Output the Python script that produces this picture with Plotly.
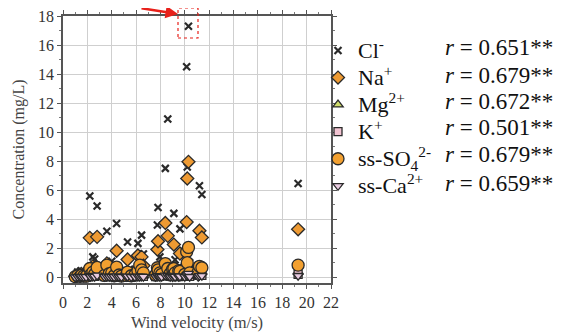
import plotly.graph_objects as go

# ---------------- data ----------------
wind = [1.0, 1.2, 1.4, 1.5, 1.7, 1.9,
        2.2, 2.25, 2.45, 2.6, 2.8,
        3.4, 3.6, 3.8, 4.0, 4.2, 4.4, 4.6, 4.8,
        5.2, 5.3, 5.6, 5.9, 6.15, 6.3, 6.45, 6.6,
        7.6, 7.75, 7.8, 7.95, 8.1, 8.4, 8.6, 8.8, 9.0, 9.1, 9.2, 9.5, 9.6,
        10.0, 10.15, 10.2, 10.3, 10.4, 11.1, 11.2, 11.4,
        19.3]
cl = [0.12, 0.35, 0.2, 0.45, 0.3, 0.25,
      5.6, 0.6, 1.4, 1.25, 4.9,
      0.5, 3.17, 0.7, 1.1, 0.4, 3.7, 0.6, 0.3,
      0.45, 2.43, 0.35, 0.55, 2.33, 1.1, 2.9, 1.6,
      0.5, 3.6, 4.8, 1.4, 0.6, 7.5, 10.9, 0.8, 0.5, 4.4, 1.2, 0.7, 3.33,
      0.6, 14.5, 7.6, 17.3, 1.0, 0.8, 6.3, 5.7,
      6.46]
na = [0.06, 0.18, 0.1, 0.22, 0.15, 0.12,
      2.71, 0.3, 0.75, 0.65, 2.78,
      0.25, 0.95, 0.4, 0.6, 0.2, 1.82, 0.3, 0.15,
      0.22, 1.22, 0.18, 0.28, 1.5, 0.55, 1.4, 0.8,
      0.25, 1.91, 2.48, 0.75, 0.3, 3.74, 2.85, 0.4, 0.25, 2.25, 0.6, 0.35, 1.63,
      0.3, 3.8, 6.8, 7.95, 0.5, 0.4, 3.2, 2.74,
      3.3]
mg = [0.01, 0.03, 0.02, 0.04, 0.03, 0.02,
      0.32, 0.04, 0.1, 0.08, 0.33,
      0.03, 0.12, 0.05, 0.07, 0.03, 0.22, 0.04, 0.02,
      0.03, 0.15, 0.02, 0.04, 0.18, 0.5, 0.7, 0.1,
      0.03, 0.23, 0.3, 0.09, 0.04, 0.45, 0.35, 0.6, 0.03, 0.27, 0.07, 0.04, 0.2,
      0.04, 0.46, 0.8, 0.95, 0.06, 0.05, 0.38, 0.33,
      0.35]
k = [0.02, 0.05, 0.03, 0.06, 0.04, 0.03,
     0.12, 0.05, 0.06, 0.05, 0.12,
     0.04, 0.08, 0.04, 0.05, 0.03, 0.09, 0.04, 0.03,
     0.04, 0.07, 0.03, 0.04, 0.08, 0.05, 0.08, 0.06,
     0.04, 0.09, 0.11, 0.06, 0.15, 0.15, 0.12, 0.05, 0.04, 0.1, 0.05, 0.04, 0.08,
     0.15, 0.15, 0.25, 0.3, 0.05, 0.15, 0.13, 0.12,
     0.2]
so4 = [0.04, 0.1, 0.06, 0.12, 0.08, 0.07,
       0.6, 0.15, 0.35, 0.2, 0.67,
       0.12, 0.83, 0.25, 0.3, 0.1, 0.7, 0.15, 0.08,
       0.12, 0.35, 0.1, 0.15, 0.45, 0.83, 0.5, 0.3,
       0.15, 0.65, 0.5, 0.3, 0.2, 0.94, 0.6, 0.25, 0.55, 0.6, 0.3, 0.45, 0.4,
       0.2, 1.75, 1.0, 2.05, 0.3, 0.35, 0.75, 0.65,
       0.83]
ca = [0.01, 0.03, 0.02, 0.04, 0.02, 0.02,
      0.11, 0.03, 0.05, 0.04, 0.12,
      0.03, 0.06, 0.03, 0.04, 0.02, 0.08, 0.03, 0.02,
      0.03, 0.05, 0.02, 0.03, 0.06, 0.04, 0.06, 0.04,
      0.03, 0.07, 0.09, 0.04, 0.03, 0.13, 0.1, 0.03, 0.02, 0.08, 0.04, 0.03, 0.06,
      0.03, 0.13, 0.2, 0.25, 0.03, 0.03, 0.11, 0.1,
      0.1]

names = ["Cl<sup>-</sup>", "Na<sup>+</sup>", "Mg<sup>2+</sup>", "K<sup>+</sup>",
         "ss-SO<sub>4</sub><sup>2-</sup>", "ss-Ca<sup>2+</sup>"]
r_labels = ["0.651**", "0.679**", "0.672**", "0.501**", "0.679**", "0.659**"]

# ---------------- figure ----------------
OFF = 8                      # page body margin
W, H = 563 - OFF, 336 - OFF
plot_l, plot_r, plot_t, plot_b = 63, 331, 16, 283   # target pixel box in the window
ml, mr, mt, mb = plot_l - OFF, W - (plot_r - OFF), plot_t - OFF, H - (plot_b - OFF)
pw, ph = W - ml - mr, H - mt - mb

def px2paper(x, y):
    return (x - plot_l) / pw, (plot_b - y) / ph

serif = "Liberation Serif"
edge = "#2a2a2a"
series = [
    (cl, dict(symbol="x-thin-open", size=7, color=edge, line=dict(width=2.2, color=edge))),
    (na, dict(symbol="diamond", size=10, color="#EE9A32", line=dict(width=1.3, color=edge))),
    (mg, dict(symbol="triangle-up", size=9, color="#CFDC6A", line=dict(width=1.3, color=edge))),
    (k, dict(symbol="square", size=8, color="#F2C4D2", line=dict(width=1.3, color=edge))),
    (so4, dict(symbol="circle", size=12, color="#F2A030", line=dict(width=1.3, color=edge))),
    (ca, dict(symbol="triangle-down", size=9, color="#E9CBE0", line=dict(width=1.3, color=edge))),
]

fig = go.Figure()
for (vals, mk), nm in zip(series, names):
    fig.add_trace(go.Scatter(x=wind, y=vals, mode="markers",
                             name='<span style="font-size:22px">' + nm + '</span>',
                             marker=mk))

axis_common = dict(
    showline=True, linecolor="#555", linewidth=1.5, mirror="allticks",
    ticks="outside", ticklen=4, tickwidth=1, tickcolor="#555",
    showgrid=True, gridcolor="#cfcfcf", gridwidth=1, zeroline=False,
    automargin=False, ticklabeloverflow="allow",
    tickfont=dict(family=serif, size=16, color="#333"),
)
fig.update_xaxes(range=[0, 22], dtick=2, tick0=0,
                 minor=dict(dtick=1, ticks="outside", ticklen=2, tickcolor="#777", showgrid=False),
                 title=dict(text="Wind velocity (m/s)", font=dict(family=serif, size=16.5, color="#444"), standoff=6),
                 **axis_common)
fig.update_yaxes(range=[-0.4, 18], dtick=2, tick0=0,
                 minor=dict(dtick=1, ticks="outside", ticklen=2, tickcolor="#777", showgrid=False),
                 title=dict(text="Concentration (mg/L)", font=dict(family=serif, size=16, color="#444"), standoff=9),
                 **axis_common)

lx, ly = px2paper(318, 32)
fig.update_layout(
    template="none",
    width=W, height=H,
    margin=dict(l=ml, r=mr, t=mt, b=mb, autoexpand=False),
    paper_bgcolor="white", plot_bgcolor="white",
    font=dict(family=serif),
    showlegend=True,
    legend=dict(x=lx, y=ly, xanchor="left", yanchor="top",
                font=dict(family=serif, size=18.5, color="#111"),
                bgcolor="rgba(0,0,0,0)", itemwidth=30, tracegroupgap=0),
)

row_y = [48, 75, 101, 127, 155, 183]
for yy, rv in zip(row_y, r_labels):
    ax_, ay_ = px2paper(443, yy)
    fig.add_annotation(x=ax_, y=ay_, xref="paper", yref="paper", xanchor="left", yanchor="middle",
                       text="<i>r</i> = " + rv, showarrow=False,
                       font=dict(family=serif, size=23, color="#111"))

# red dashed highlight box and arrow
x0, y0 = px2paper(178, 38)
x1, y1 = px2paper(198, 8)
fig.add_shape(type="rect", xref="paper", yref="paper", x0=x0, y0=y0, x1=x1, y1=y1,
              line=dict(color="#e8201a", width=1.2, dash="dot"))
hx, hy = px2paper(178, 14)
fig.add_annotation(x=hx, y=hy, xref="paper", yref="paper", ax=-38, ay=-17,
                   showarrow=True, arrowhead=2, arrowsize=1, arrowwidth=2.5,
                   arrowcolor="#e8201a", text="")

fig.write_html("out.html")
